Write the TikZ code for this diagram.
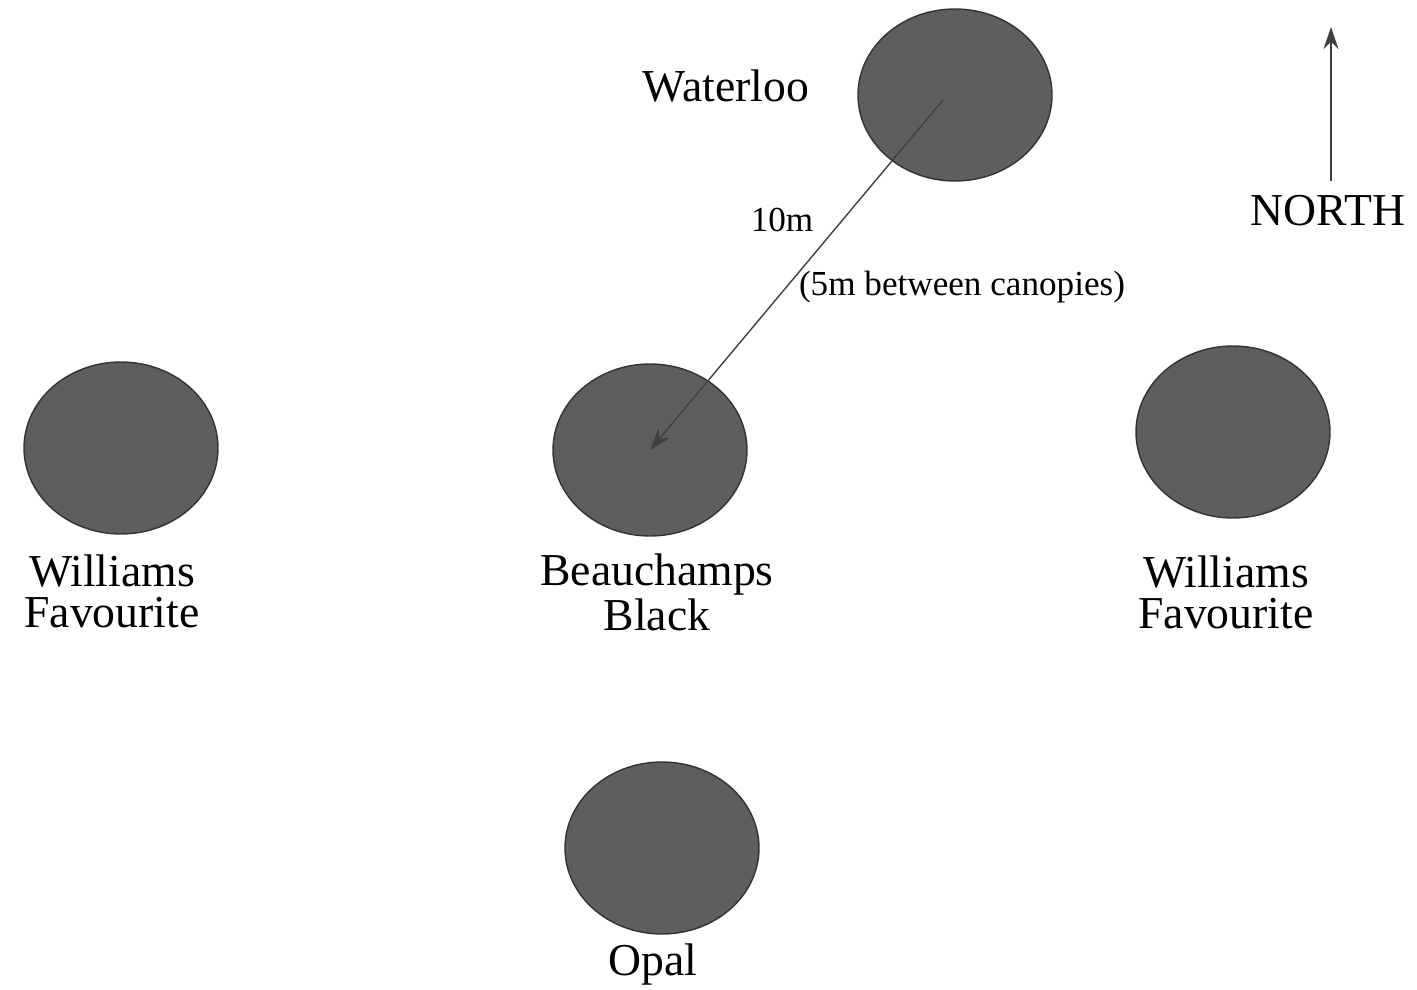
\documentclass[tikz,border=0pt]{standalone}
\usepackage{fontspec}
\setmainfont{Liberation Serif}
\usetikzlibrary{
	arrows.meta,
	shapes.geometric
}

\tikzset{
    canopy/.style={ellipse, draw=black!80, fill=black!63, minimum width=1.94cm, minimum height=1.72cm, inner sep=0pt},
    biglabel/.style={align=center, inner sep=0pt, font=\fontsize{13}{11.6}\selectfont},
    smalllabel/.style={inner sep=0pt, font=\fontsize{10}{12}\selectfont}
}

\begin{document}
\begin{tikzpicture}[>={Stealth[length=2.2mm, width=1.5mm]}]
    % Definitions
    \useasboundingbox (0,0) rectangle (14.17,9.89);
    %%%
    %%% Tree canopies
    %%%
    \foreach \name/\x/\y in {waterloo/9.55/8.94, beauchamps/6.50/5.39, williamswest/1.21/5.41, williamseast/12.33/5.57, opal/6.62/1.41}
    {
        \node[canopy] (\name) at (\x,\y) {};
    }
    % Variety names
    \node[biglabel] (waterloolabel) at (7.26,9.03) {Waterloo};
    \node[biglabel] (beauchampslabel) at (6.57,3.97) {Beauchamps\\Black};
    \node[biglabel] (williamswestlabel) at (1.12,3.98) {Williams\\Favourite};
    \node[biglabel] (williamseastlabel) at (12.26,3.97) {Williams\\Favourite};
    \node[biglabel] (opallabel) at (6.53,0.24) {Opal};
    % Spacing
    \draw[->, black!75, thin] ([shift={(-0.12,-0.05)}]waterloo.center) -- (beauchamps.center);
    \node[smalllabel] (distance) at (7.82,7.69) {10m};
    \node[smalllabel] (canopygap) at (9.62,7.02) {(5m between canopies)};
    % North arrow
    \node[biglabel] (north) at (13.28,7.78) {NORTH};
    \coordinate (northtip) at (13.31,9.62);
    \draw[->, black!75, thin] ([yshift=0.14cm]north.north -| northtip) -- (northtip);
\end{tikzpicture}
\end{document}
